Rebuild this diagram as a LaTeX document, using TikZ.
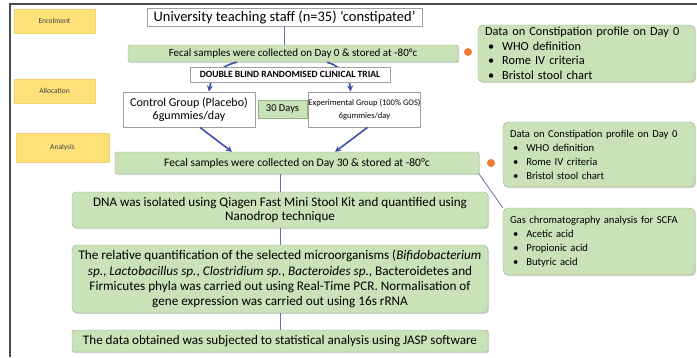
\documentclass[tikz,border=0pt]{standalone}
\usepackage{fontspec}
\setmainfont{Carlito}
\usetikzlibrary{arrows.meta,shadows}

\definecolor{boxgreen}{RGB}{201,226,184}
\definecolor{edgegreen}{RGB}{150,176,132}
\definecolor{stageyellow}{RGB}{255,225,122}
\definecolor{dotorange}{RGB}{237,125,49}
\definecolor{flowblue}{RGB}{62,82,168}
\definecolor{linkblue}{RGB}{104,112,168}

\tikzset{
    stage/.style={fill=stageyellow, draw=stageyellow!85!brown, inner sep=0pt,
        minimum width=81pt, minimum height=24pt, text=black!75,
        font=\fontsize{7.5}{9}\selectfont},
    whitebox/.style={draw=gray!75, line width=0.9pt, fill=white, inner sep=0pt, align=center},
    greenbox/.style={draw=edgegreen, fill=boxgreen, inner sep=0pt, align=center,
        rounded corners=2pt,
        drop shadow={shadow xshift=1.2pt, shadow yshift=-1.2pt, opacity=0.3}},
    infobox/.style={greenbox, rounded corners=5pt, align=left, inner xsep=7pt, inner ysep=0pt},
    link/.style={draw=linkblue, line width=0.8pt},
    flow/.style={draw=flowblue, line width=1.6pt, -{Stealth[length=6pt,width=6pt]}},
    marker/.style={circle, fill=dotorange, inner sep=0pt, minimum size=8pt},
}
\newcommand{\bul}[1]{\hspace*{3pt}\textbullet\hspace{8pt}#1}

\begin{document}
\begin{tikzpicture}[x=1pt, y=-1pt]
    \fill[white] (0,0) rectangle (697,357);
    \useasboundingbox (0,0) rectangle (697,357);
    \draw[gray!60!black, line width=2.2pt] (10,357) -- (10,4) -- (697,4);

    \node[stage] (enrol) at (54.5,21) {Enrolment};
    \node[stage] (alloc) at (54.5,91) {Allocation};
    \node[stage, minimum width=93pt, minimum height=29pt] (anal) at (62.5,147.5) {Analysis};

    \node[whitebox, minimum width=275pt, minimum height=18pt,
        font=\fontsize{14.5}{16}\selectfont] (staff) at (284.5,17)
        {University teaching staff (n=35) ‘constipated’};
    \node[greenbox, minimum width=330pt, minimum height=17pt,
        font=\fontsize{11}{13}\selectfont] (day0) at (293,53.5)
        {Fecal samples were collected on Day 0 \& stored at -80°c};
    \node[marker] (dot0) at (468,52) {};
    \node[infobox, text width=203pt, minimum height=57pt,
        font=\fontsize{12.3}{14.5}\selectfont] (prof0) at (586.5,53.5)
        {Data on Constipation profile on Day 0\\
         \bul{WHO definition}\\ \bul{Rome IV criteria}\\ \bul{Bristol stool chart}};

    \node[whitebox, minimum width=132pt, minimum height=35pt,
        font=\fontsize{12}{13.5}\selectfont] (ctrl) at (189,109.5)
        {Control Group (Placebo)\\ 6gummies/day};
    \node[whitebox, minimum width=111pt, minimum height=35pt,
        font=\fontsize{8.5}{13}\selectfont] (expt) at (364.5,109.5)
        {Experimental Group (100\% GOS)\\ 6gummies/day};
    \node[greenbox, rounded corners=0pt, minimum width=49pt, minimum height=18pt,
        font=\fontsize{10.5}{11}\selectfont] (days) at (282.5,109) {30 Days};

    \draw[flow] ([xshift=-56pt]day0.south) to[bend right=35] ([xshift=20pt]ctrl.north);
    \draw[flow] ([xshift=34pt]day0.south) to[bend left=35] ([xshift=-14pt]expt.north);

    \node[whitebox, line width=0.7pt, minimum width=200pt, minimum height=15pt,
        font=\bfseries\fontsize{9.6}{10}\selectfont,
        drop shadow={shadow xshift=1pt, shadow yshift=-1pt, opacity=0.3}] (trial) at (290,74.5)
        {DOUBLE BLIND RANDOMISED CLINICAL TRIAL};

    \node[greenbox, minimum width=364pt, minimum height=22pt,
        font=\fontsize{11.5}{13}\selectfont] (day30) at (297,163)
        {Fecal samples were collected on Day 30 \& stored at -80°c};
    \node[marker] (dot30) at (491,163) {};
    \node[infobox, text width=178pt, minimum height=65pt,
        font=\fontsize{10.6}{14}\selectfont] (prof30) at (599,154.5)
        {Data on Constipation profile on Day 0\\
         \bul{WHO definition}\\ \bul{Rome IV criteria}\\ \bul{Bristol stool chart}};
    \node[infobox, text width=178pt, minimum height=67pt,
        font=\fontsize{10.6}{14}\selectfont] (gas) at (599,241.5)
        {Gas chromatography analysis for SCFA\\
         \bul{Acetic acid}\\ \bul{Propionic acid}\\ \bul{Butyric acid}};

    \node[greenbox, rounded corners=4pt, minimum width=416pt, minimum height=36pt,
        font=\fontsize{13.1}{14.5}\selectfont] (dna) at (280,210)
        {DNA was isolated using Qiagen Fast Mini Stool Kit and quantified using\\
         Nanodrop technique};
    \node[greenbox, rounded corners=5pt, minimum width=416pt, minimum height=68pt,
        font=\fontsize{13.2}{15.3}\selectfont] (quant) at (280,279)
        {The relative quantification of the selected microorganisms (\textit{Bifidobacterium}\\
         \textit{sp.}, \textit{Lactobacillus sp.}, \textit{Clostridium sp.}, \textit{Bacteroides sp.}, Bacteroidetes and\\
         Firmicutes phyla was carried out using Real-Time PCR. Normalisation of\\
         gene expression was carried out using 16s rRNA};
    \node[greenbox, minimum width=416pt, minimum height=22pt,
        font=\fontsize{13.1}{14}\selectfont] (final) at (280,341)
        {The data obtained was subjected to statistical analysis using JASP software};

    \draw[link] (staff) -- (staff.south |- day0.north);
    \draw[flow] ([xshift=11pt]ctrl.south) -- ([xshift=-65pt]day30.north);
    \draw[flow] ([xshift=3pt]expt.south) -- ([xshift=38pt]day30.north);
    \draw[link] (day30.south -| dna.north) -- (dna);
    \foreach \a/\b in {dna/quant, quant/final}
        \draw[link] (\a) -- (\b);
    \draw[link] (day30.south east) -- (gas.north west);

\end{tikzpicture}
\end{document}
